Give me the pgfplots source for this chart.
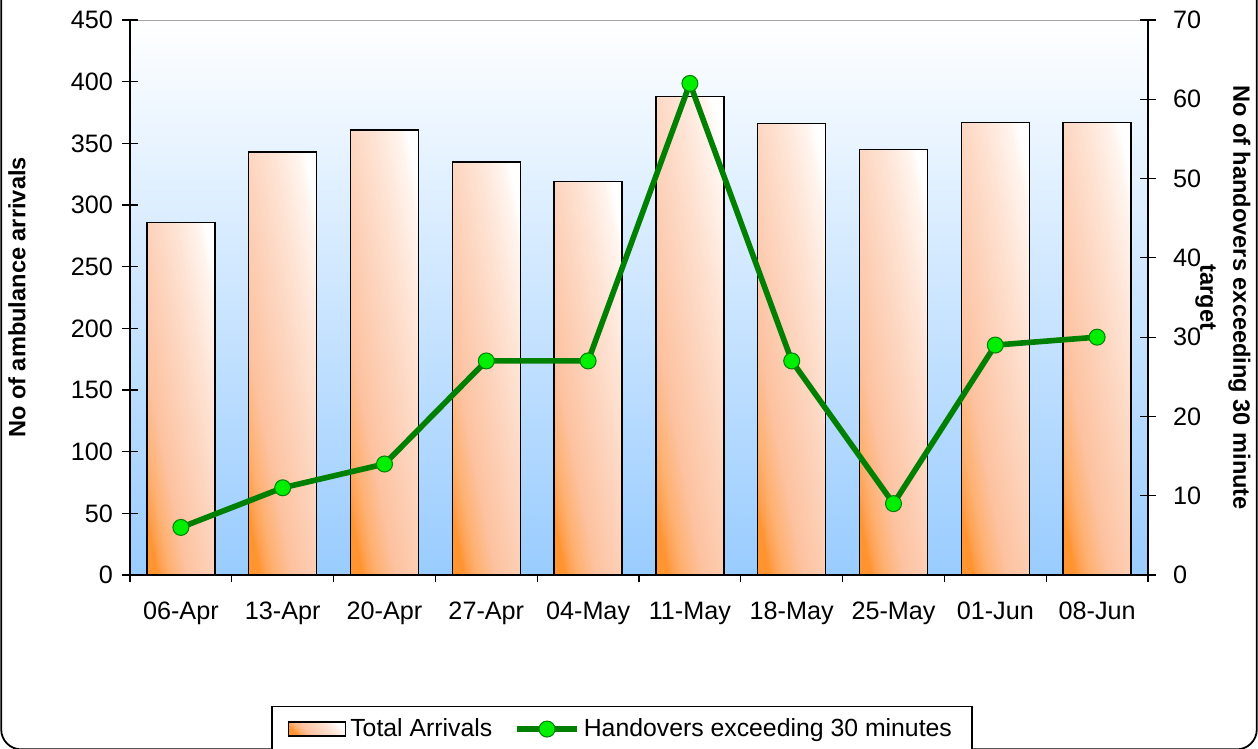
\documentclass[border=0pt]{standalone}
\usepackage{fontspec}
\setmainfont{Liberation Sans}
\usepackage{pgfplots}
\usepackage{pgfplotstable}
\pgfplotsset{compat=1.18}
\definecolor{lineg}{HTML}{008000}
\definecolor{markg}{HTML}{00EE00}
\definecolor{bgblue}{HTML}{99CCFF}
\definecolor{s0}{HTML}{FF9430}
\definecolor{s1}{HTML}{FFA050}
\definecolor{s2}{HTML}{FEB070}
\definecolor{s3}{HTML}{FDC2A0}
\definecolor{s4}{HTML}{FDD2BA}
\definecolor{s5}{HTML}{FEE3D4}
\definecolor{s6}{HTML}{FFF5EF}
\pgfdeclareverticalshading{barshade}{100bp}{color(0bp)=(s0); color(25bp)=(s0); color(27bp)=(s1); color(30.5bp)=(s2); color(38bp)=(s3); color(50bp)=(s4); color(62bp)=(s5); color(72bp)=(s6); color(75bp)=(white); color(100bp)=(white)}
\pgfplotstableread{
x hand
0 6
1 11
2 14
3 27
4 27
5 62
6 27
7 9
8 29
9 30
}\handtable
\newcommand\tfont{\fontsize{12.6}{15}\selectfont}
\newcommand\gfont{\fontsize{12.4}{15}\selectfont}
\newcommand\lfont{\fontsize{11.8}{16.5}\selectfont\bfseries}
\begin{document}
\begin{tikzpicture}
\useasboundingbox (0,0) rectangle (629pt,374.5pt);
\draw[black, line width=0.9pt, rounded corners=10pt] (0.6pt,-0.2pt) rectangle (628.4pt,400pt);
\begin{axis}[
  at={(65pt,87pt)}, anchor=south west,
  width=509pt, height=277.5pt, scale only axis,
  xmin=-0.5, xmax=9.5, ymin=0, ymax=450,
  ytick={0,50,...,450},
  xtick={0,...,9},
  xticklabels={06-Apr,13-Apr,20-Apr,27-Apr,04-May,11-May,18-May,25-May,01-Jun,08-Jun},
  minor xtick={-0.5,0.5,...,9.5},
  axis x line*=bottom, axis y line*=left,
  axis line style={-, black, line width=0.7pt},
  tick align=center,
  major tick length=8pt, minor tick length=3.5pt,
  major x tick style={draw=none},
  minor x tick style={black, line width=0.6pt, yshift=-1.75pt},
  y tick style={black, line width=0.6pt},
  tick label style={font=\tfont},
  /pgf/number format/assume math mode=true,
  yticklabel style={xshift=-1pt},
  xticklabel style={yshift=-6pt},
  axis background/.style={shade, top color=white, bottom color=bgblue, draw=gray!70},
  every axis y label/.style={at={(axis description cs:-0.111,0.5)}, rotate=90, anchor=center, font=\lfont},
  ylabel={No of ambulance arrivals},
  bars/.style={ybar, bar width=34pt, draw=black, line width=0.75pt, shade, shading=barshade, shading angle=-79},
]
\addplot[bars] coordinates {(0,286)};
\addplot[bars] coordinates {(1,343)};
\addplot[bars] coordinates {(2,361)};
\addplot[bars] coordinates {(3,335)};
\addplot[bars] coordinates {(4,319)};
\addplot[bars] coordinates {(5,388)};
\addplot[bars] coordinates {(6,366)};
\addplot[bars] coordinates {(7,345)};
\addplot[bars] coordinates {(8,367)};
\addplot[bars] coordinates {(9,367)};
\end{axis}
\begin{axis}[
  at={(65pt,87pt)}, anchor=south west,
  width=509pt, height=277.5pt, scale only axis,
  xmin=-0.5, xmax=9.5, ymin=0, ymax=70,
  ytick={0,10,...,70},
  axis y line*=right, axis x line=none,
  axis line style={-, black, line width=0.7pt},
  tick align=center,
  major tick length=8pt,
  y tick style={black, line width=0.6pt},
  tick label style={font=\tfont},
  /pgf/number format/assume math mode=true,
  yticklabel style={xshift=5pt},
  every axis y label/.style={at={(axis description cs:1.0737,0.5)}, rotate=-90, anchor=center, align=center, font=\lfont},
  ylabel={No of handovers exceeding 30 minute\\target},
  legend columns=2,
  legend style={at={(axis description cs:0.4833,-0.236)}, anchor=north, draw=black, line width=0.6pt, font=\gfont, inner ysep=4pt, inner xsep=8pt,
    /tikz/every even column/.append style={column sep=9pt}},
]
\addlegendimage{legend image code/.code={\draw[draw=black, line width=0.6pt, shade, shading=barshade, shading angle=-45] (0pt,-3.5pt) rectangle (28.5pt,3.5pt);}}
\addlegendentry{Total Arrivals}
\addplot[lineg, line width=2.8pt, mark=*, mark size=4pt, mark options={fill=markg, draw=lineg, line width=0.5pt},
  legend image code/.code={\draw[lineg, line width=2.8pt] (0pt,0pt) -- (30pt,0pt); \draw[fill=markg, draw=lineg, line width=0.5pt] (15pt,0pt) circle (4pt);}] table[x=x,y=hand]{\handtable};
\addlegendentry{Handovers exceeding 30 minutes}
\end{axis}
\end{tikzpicture}
\end{document}
